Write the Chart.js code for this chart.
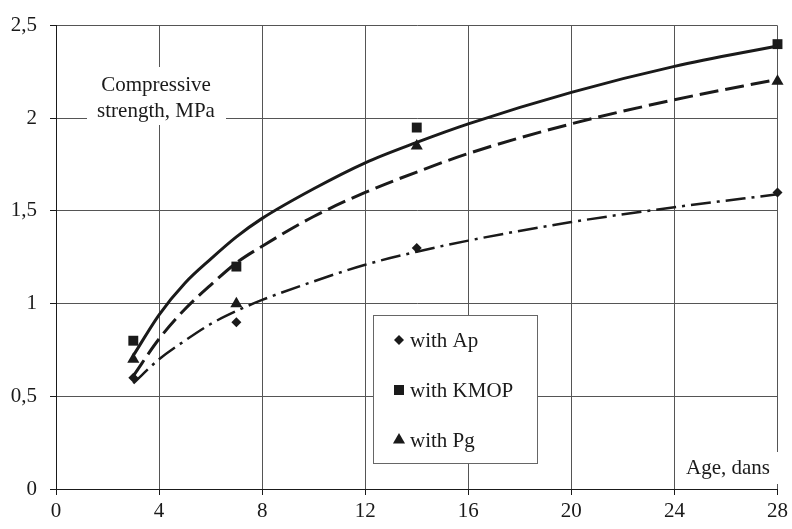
<!DOCTYPE html>
<html>
<head>
<meta charset="utf-8">
<script src="https://cdn.jsdelivr.net/npm/chart.js@4"></script>
<style>
  html, body { margin: 0; padding: 0; background: #fff; }
  #wrap { width: 792px; height: 529px; }
</style>
</head>
<body>
<div id="wrap"><canvas id="c" width="792" height="529"></canvas></div>
<script>
// ---- data ----
const ages = [3, 7, 14, 28];
const seriesLabels = ['with Ap', 'with KMOP', 'with Pg'];
const apValues   = [0.6, 0.9, 1.3, 1.6];
const kmopValues = [0.8, 1.2, 1.95, 2.4];
const pgValues   = [0.7, 1.0, 1.85, 2.2];

// trend curves at these ages
const trendAges  = [3, 4, 5, 6, 7, 8, 10, 12, 14, 16, 20, 24, 28];
const apTrend    = [0.57, 0.70, 0.80, 0.89, 0.96, 1.02, 1.12, 1.21, 1.28, 1.34, 1.44, 1.52, 1.59];
const kmopTrend  = [0.72, 0.94, 1.11, 1.24, 1.36, 1.46, 1.62, 1.76, 1.87, 1.97, 2.14, 2.28, 2.39];
const pgTrend    = [0.61, 0.81, 0.97, 1.10, 1.22, 1.31, 1.47, 1.60, 1.71, 1.81, 1.97, 2.10, 2.21];

const xTicks = [0, 4, 8, 12, 16, 20, 24, 28];
const yTicks = [0, 0.5, 1, 1.5, 2, 2.5];
const yAxisTitle = ['Compressive', 'strength, MPa'];
const xAxisTitle = 'Age, dans';

const INK = '#1a1a1a';
const GRID = '#555';
const FONT = '"Liberation Serif", "Times New Roman", serif';

function pts(xs, ys) { return xs.map((x, i) => ({ x: x, y: ys[i] })); }

function drawMarker(ctx, style, x, y) {
  ctx.save();
  ctx.fillStyle = INK;
  ctx.beginPath();
  if (style === 'rectRot') {
    const r = 5;
    ctx.moveTo(x, y - r); ctx.lineTo(x + r, y); ctx.lineTo(x, y + r); ctx.lineTo(x - r, y);
  } else if (style === 'rect') {
    const s = 5;
    ctx.rect(x - s, y - s, 2 * s, 2 * s);
  } else {
    const r = 7;
    ctx.moveTo(x, y - r);
    ctx.lineTo(x + r * 0.866, y + r * 0.5);
    ctx.lineTo(x - r * 0.866, y + r * 0.5);
  }
  ctx.closePath();
  ctx.fill();
  ctx.restore();
}

const overlayPlugin = {
  id: 'overlay',
  afterDatasetsDraw(chart) {
    const ctx = chart.ctx;
    ctx.save();
    // y-axis title box
    ctx.fillStyle = '#fff';
    ctx.fillRect(87, 67, 139, 58);
    ctx.fillStyle = INK;
    ctx.font = '21px ' + FONT;
    ctx.textAlign = 'center';
    ctx.textBaseline = 'alphabetic';
    ctx.fillText(yAxisTitle[0], 156, 91);
    ctx.fillText(yAxisTitle[1], 156, 117);
    // x-axis title box
    ctx.fillStyle = '#fff';
    ctx.fillRect(680, 452, 106, 32);
    ctx.fillStyle = INK;
    ctx.textAlign = 'left';
    ctx.fillText(xAxisTitle, 686, 474);
    // legend
    ctx.fillStyle = '#fff';
    ctx.fillRect(373, 315, 164, 148);
    ctx.strokeStyle = '#666';
    ctx.lineWidth = 1;
    ctx.strokeRect(373.5, 315.5, 164, 148);
    const styles = chart.data.datasets.filter(d => d.isMarker).map(d => d.pointStyle);
    const rows = [340, 390, 440];
    seriesLabels.forEach((lab, i) => {
      drawMarker(ctx, styles[i], 399, rows[i]);
      ctx.fillStyle = INK;
      ctx.font = '21px ' + FONT;
      ctx.textAlign = 'left';
      ctx.fillText(lab, 410, rows[i] + 7);
    });
    ctx.restore();
  }
};

const ctx = document.getElementById('c').getContext('2d');
new Chart(ctx, {
  type: 'scatter',
  data: {
    datasets: [
      { label: seriesLabels[1] + ' trend', data: pts(trendAges, kmopTrend), showLine: true,
        borderColor: INK, borderWidth: 3, pointRadius: 0, cubicInterpolationMode: 'monotone', fill: false },
      { label: seriesLabels[2] + ' trend', data: pts(trendAges, pgTrend), showLine: true,
        borderColor: INK, borderWidth: 3, borderDash: [19, 7], pointRadius: 0, cubicInterpolationMode: 'monotone', fill: false },
      { label: seriesLabels[0] + ' trend', data: pts(trendAges, apTrend), showLine: true,
        borderColor: INK, borderWidth: 2.5, borderDash: [20, 6, 3, 6], pointRadius: 0, cubicInterpolationMode: 'monotone', fill: false },
      { label: seriesLabels[0], isMarker: true, data: pts(ages, apValues), pointStyle: 'rectRot', pointRadius: 5,
        backgroundColor: INK, borderColor: INK, borderWidth: 0, clip: false },
      { label: seriesLabels[1], isMarker: true, data: pts(ages, kmopValues), pointStyle: 'rect', pointRadius: 7,
        backgroundColor: INK, borderColor: INK, borderWidth: 0, clip: false },
      { label: seriesLabels[2], isMarker: true, data: pts(ages, pgValues), pointStyle: 'triangle', pointRadius: 7,
        backgroundColor: INK, borderColor: INK, borderWidth: 0, clip: false }
    ]
  },
  options: {
    responsive: false,
    animation: false,
    layout: { padding: { top: 23, right: 13, left: 0, bottom: 0 } },
    plugins: { legend: { display: false }, tooltip: { enabled: false }, title: { display: false } },
    scales: {
      x: {
        type: 'linear', min: 0, max: 28,
        afterFit(s) { s.height = 40; },
        afterBuildTicks(s) { s.ticks = xTicks.map(v => ({ value: v })); },
        ticks: { color: INK, font: { family: FONT, size: 21 }, padding: 4, maxRotation: 0,
                 callback: v => String(v) },
        grid: { color: c => (c.tick && c.tick.value === 0) ? INK : GRID, lineWidth: 1,
                drawTicks: true, tickLength: 6, tickColor: INK },
        border: { display: true, color: INK, width: 1 }
      },
      y: {
        type: 'linear', min: 0, max: 2.5,
        afterFit(s) { s.width = 56; },
        afterBuildTicks(s) { s.ticks = yTicks.map(v => ({ value: v })); },
        ticks: { color: INK, font: { family: FONT, size: 21 }, padding: 13,
                 callback: v => String(v).replace('.', ',') },
        grid: { color: c => (c.tick && c.tick.value === 0) ? INK : GRID, lineWidth: 1,
                drawTicks: true, tickLength: 6, tickColor: INK },
        border: { display: true, color: INK, width: 1 }
      }
    }
  },
  plugins: [overlayPlugin]
});
</script>
</body>
</html>
